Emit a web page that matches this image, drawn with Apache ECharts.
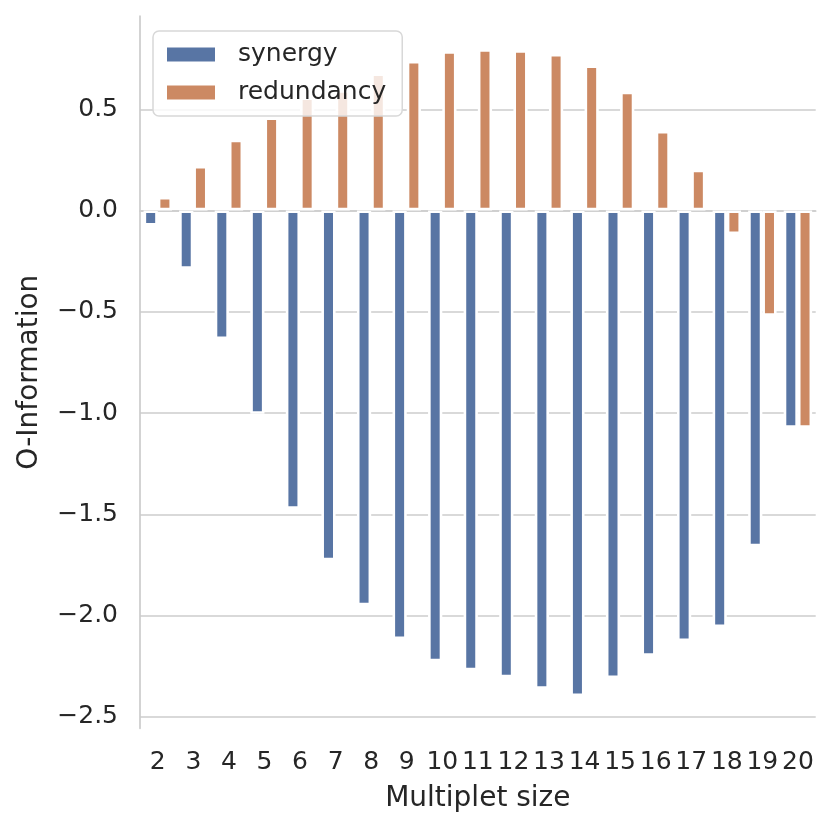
<!DOCTYPE html>
<html>
<head>
<meta charset="utf-8">
<script src="https://cdn.jsdelivr.net/npm/echarts@6/dist/echarts.min.js"></script>
<style>
  html, body { margin: 0; padding: 0; background: #fff; }
  #chart { width: 831px; height: 831px; }
</style>
</head>
<body>
<div id="chart"></div>
<script>
// multiplet sizes on the x axis
var sizes = ['2', '3', '4', '5', '6', '7', '8', '9', '10', '11',
             '12', '13', '14', '15', '16', '17', '18', '19', '20'];

// O-information
var synergy = [-0.075, -0.289, -0.635, -1.004, -1.473, -1.728, -1.950, -2.117, -2.227, -2.271,
               -2.306, -2.362, -2.398, -2.309, -2.199, -2.127, -2.057, -1.659, -1.074];
var redundancy = [0.067, 0.220, 0.350, 0.459, 0.558, 0.594, 0.676, 0.738, 0.786, 0.796,
                  0.791, 0.773, 0.716, 0.587, 0.393, 0.201, -0.117, -0.521, -1.074];

var seriesNames = ['synergy', 'redundancy'];
var seriesColors = ['#5875a4', '#cc8963'];

// y tick labels
var yTicks = [-2.5, -2.0, -1.5, -1.0, -0.5, 0.0, 0.5];

var FONT = 'DejaVu Sans';
var INK = '#262626';
var GRID_GRAY = '#cccccc';

function fmtTick(v) {
    var s = Math.abs(v).toFixed(1);
    return (v < 0 ? '\u2212' : '') + s;
}

var chart = echarts.init(document.getElementById('chart'), null, {renderer: 'canvas'});

var yLo = -2.557, yHi = 0.960;

var option = {
    backgroundColor: '#ffffff',
    animation: false,
    textStyle: {fontFamily: FONT, color: INK},
    grid: [
        // bars + spines
        {left: 140, right: 15.3, top: 16, bottom: 102.7},
        // gridlines + tick labels, spanning only the tick range
        {left: 140, right: 15.3, top: 109.25, bottom: 114.25}
    ],
    legend: {
        orient: 'vertical',
        left: 153,
        top: 31,
        data: seriesNames,
        icon: 'rect',
        itemWidth: 50,
        itemHeight: 16,
        itemGap: 13,
        padding: [11, 16, 11, 12],
        backgroundColor: 'rgba(255,255,255,0.8)',
        borderColor: '#d8d8d8',
        borderWidth: 1.5,
        borderRadius: 6,
        textStyle: {fontFamily: FONT, fontSize: 25, color: INK, padding: [0, 0, 0, 17]}
    },
    xAxis: [
        {
            type: 'category',
            gridIndex: 0,
            data: sizes,
            boundaryGap: true,
            axisLine: {show: true, lineStyle: {color: GRID_GRAY, width: 1.7}},
            axisTick: {show: false},
            splitLine: {show: false},
            axisLabel: {fontFamily: FONT, fontSize: 25, color: INK, margin: 22, interval: 0},
            name: 'Multiplet size',
            nameLocation: 'middle',
            nameGap: 56,
            nameTextStyle: {fontFamily: FONT, fontSize: 28, color: INK}
        },
        {
            type: 'category',
            gridIndex: 1,
            data: sizes,
            show: false
        }
    ],
    yAxis: [
        {
            type: 'value',
            gridIndex: 0,
            min: yLo,
            max: yHi,
            axisLine: {show: true, lineStyle: {color: GRID_GRAY, width: 1.7}},
            axisTick: {show: false},
            axisLabel: {show: false},
            splitLine: {show: false},
            name: 'O-Information',
            nameLocation: 'middle',
            nameGap: 96,
            nameTextStyle: {fontFamily: FONT, fontSize: 28, color: INK}
        },
        {
            type: 'value',
            gridIndex: 1,
            min: yTicks[0],
            max: yTicks[yTicks.length - 1],
            interval: 0.5,
            axisLine: {show: false},
            axisTick: {show: false},
            axisLabel: {
                fontFamily: FONT, fontSize: 25, color: INK, margin: 22,
                formatter: fmtTick
            },
            splitLine: {show: true, lineStyle: {color: GRID_GRAY, width: 1.7}}
        }
    ],
    series: [
        {
            name: seriesNames[0],
            type: 'bar',
            xAxisIndex: 0,
            yAxisIndex: 0,
            data: synergy,
            barCategoryGap: '20%',
            barGap: '0%',
            itemStyle: {color: seriesColors[0], borderColor: '#ffffff', borderWidth: 2.6}
        },
        {
            name: seriesNames[1],
            type: 'bar',
            xAxisIndex: 0,
            yAxisIndex: 0,
            data: redundancy,
            barCategoryGap: '20%',
            barGap: '0%',
            itemStyle: {color: seriesColors[1], borderColor: '#ffffff', borderWidth: 2.6}
        }
    ]
};

chart.setOption(option);
</script>
</body>
</html>
